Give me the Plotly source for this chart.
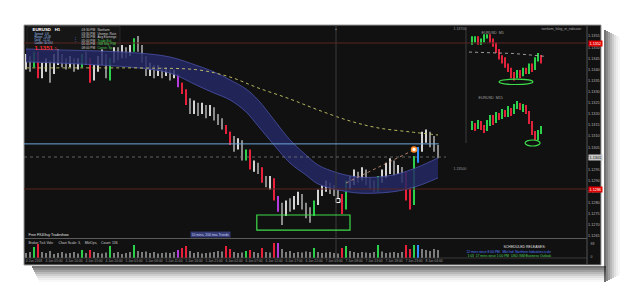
import plotly.graph_objects as go

W, H = 625, 289

# ---------------- main EURUSD H1 candles ----------------
open0 = 1.1342
close = [1.1344,1.1342,1.1345,1.1337,1.1341,1.1343,1.1339,1.1344,1.1346,1.1343,
         1.1342,1.1344,1.1341,1.1343,1.1346,1.1344,1.1336,1.1340,1.1343,1.1346,
         1.1337,1.1344,1.1348,1.1346,1.1349,1.1347,1.1349,1.1353,1.1350,1.1345,
         1.1339,1.1341,1.1338,1.1340,1.1338,1.1339,1.1337,1.1338,1.1334,1.1331,
         1.1326,1.1322,1.1324,1.1321,1.1323,1.1320,1.1322,1.1319,1.1317,1.1315,
         1.1312,1.1308,1.1306,1.1308,1.1300,1.1303,1.1296,1.1297,1.1295,1.1291,
         1.1289,1.1290,1.1282,1.1278,1.1275,1.1280,1.1278,1.1281,1.1283,1.1279,
         1.1276,1.1274,1.1280,1.1284,1.1286,1.1288,1.1286,1.1285,1.1283,1.1278,
         1.1288,1.1290,1.1293,1.1291,1.1294,1.1290,1.1288,1.1286,1.1291,1.1293,
         1.1296,1.1298,1.1295,1.1296,1.1293,1.1286,1.1282,1.1300,1.1305,1.1309,
         1.1311,1.1308,1.1306,1.1302]
high = [1.1347,1.1346,1.1348,1.1348,1.1343,1.1345,1.1344,1.1347,1.1349,1.1347,
        1.1345,1.1346,1.1345,1.1345,1.1347,1.1348,1.1345,1.1342,1.1346,1.1349,
        1.1347,1.1345,1.1350,1.1350,1.1351,1.1350,1.1351,1.1354,1.1355,1.1351,
        1.1346,1.1343,1.1342,1.1342,1.1341,1.1341,1.1340,1.1340,1.1338,1.1334,
        1.1331,1.1327,1.1326,1.1325,1.1325,1.1324,1.1324,1.1323,1.1320,1.1318,
        1.1315,1.1312,1.1310,1.1309,1.1308,1.1304,1.1304,1.1299,1.1298,1.1296,
        1.1292,1.1292,1.1291,1.1283,1.1280,1.1281,1.1282,1.1283,1.1285,1.1284,
        1.1280,1.1278,1.1281,1.1286,1.1288,1.1290,1.1289,1.1288,1.1286,1.1284,
        1.1290,1.1292,1.1295,1.1294,1.1296,1.1295,1.1291,1.1290,1.1292,1.1295,
        1.1298,1.1300,1.1299,1.1297,1.1296,1.1294,1.1287,1.1301,1.1305,1.1312,
        1.1313,1.1312,1.1310,1.1306]
low = [1.1340,1.1339,1.1341,1.1336,1.1336,1.1339,1.1334,1.1338,1.1342,1.1341,
       1.1340,1.1341,1.1339,1.1340,1.1341,1.1342,1.1334,1.1335,1.1339,1.1342,
       1.1336,1.1335,1.1343,1.1344,1.1345,1.1345,1.1346,1.1348,1.1348,1.1343,
       1.1337,1.1337,1.1336,1.1337,1.1336,1.1337,1.1335,1.1336,1.1332,1.1329,
       1.1324,1.1320,1.1320,1.1319,1.1320,1.1318,1.1319,1.1317,1.1315,1.1313,
       1.1311,1.1306,1.1303,1.1304,1.1299,1.1299,1.1295,1.1294,1.1293,1.1289,
       1.1287,1.1286,1.1281,1.1276,1.1270,1.1274,1.1276,1.1277,1.1279,1.1277,
       1.1273,1.1271,1.1274,1.1279,1.1283,1.1285,1.1284,1.1283,1.1282,1.1275,
       1.1277,1.1286,1.1288,1.1289,1.1290,1.1288,1.1286,1.1285,1.1285,1.1289,
       1.1291,1.1293,1.1292,1.1293,1.1289,1.1281,1.1277,1.1279,1.1298,1.1303,
       1.1307,1.1305,1.1303,1.1300]
# n = neutral, g = green, r = red, p = purple, b = blue (indicator colouring)
candle_class = ("nngr" "nnnnnnnnnn" "gnr" "nnnn" "g" "nnnnn" "g" "nnnnnnnnnn"
                "prr" "nnnnnnnnn" "rr" "nnn" "gr" "nn" "r" "nn" "rp" "nnnnnnnn"
                "g" "nnnnnn" "rg" "nnnnnnn" "g" "nnnnnn" "rrgb" "nnnnn")
volume = [500,600,1100,1400,600,500,700,400,500,600,
          450,500,600,450,800,500,800,600,500,450,
          550,1200,500,600,400,500,600,1300,700,600,
          650,500,600,450,500,550,500,600,800,1000,
          1200,700,500,600,450,500,550,600,700,650,
          1200,900,600,500,550,700,800,600,500,1000,
          600,550,1500,1500,900,600,700,500,600,550,
          650,600,1000,600,500,550,600,500,450,1000,
          1200,700,600,500,600,550,500,600,1300,650,
          500,550,600,500,600,1300,900,1300,1300,900,
          800,700,900,800]

# TMA band
band_x = [0, 8, 18, 28, 36, 43, 47, 51, 55, 58, 62, 66, 70, 73, 78, 83, 88, 93, 98, 103]
band_top = [1.13492,1.13488,1.13483,1.13474,1.13456,1.13416,1.13389,1.13353,1.13312,1.13263,
            1.13173,1.13083,1.13015,1.12970,1.12934,1.12916,1.12916,1.12930,1.12961,1.13002]
band_bot = [1.13434,1.13429,1.13420,1.13407,1.13384,1.13326,1.13294,1.13263,1.13209,1.13146,
            1.13060,1.12979,1.12925,1.12885,1.12858,1.12844,1.12844,1.12853,1.12876,1.12912]
# 200 EMA (dotted)
ema_x = [0, 18, 31, 43, 51, 58, 66, 73, 81, 88, 96, 103]
ema_y = [1.13407,1.13407,1.13406,1.13398,1.13366,1.13317,1.13267,1.13218,1.13168,1.13137,1.13119,1.13105]
trend_x = [80, 97]
trend_y = [1.12889, 1.13038]

level_blue = 1.13065
level_bid = 1.13006
level_red_hi = 1.13519
level_red_lo = 1.12862
bid_label = "1.1301"

price_ticks = [1.1265,1.1270,1.1275,1.1280,1.1285,1.1290,1.1295,1.1300,1.1305,1.1310,
               1.1315,1.1320,1.1325,1.1330,1.1335,1.1340,1.1345,1.1350,1.1355]
date_pos = [2,7,12,17,22,27,32,37,42,47,52,57,62,67,72,77,82,87,92,97,102]
date_text = ["4 Jun 2018","4 Jun 05:00","4 Jun 10:00","4 Jun 15:00","4 Jun 20:00",
             "5 Jun 01:00","5 Jun 06:00","5 Jun 11:00","5 Jun 16:00","5 Jun 21:00",
             "6 Jun 02:00","6 Jun 07:00","6 Jun 12:00","6 Jun 17:00","6 Jun 22:00",
             "7 Jun 03:00","7 Jun 08:00","7 Jun 13:00","7 Jun 18:00","7 Jun 23:00",
             "8 Jun 04:00"]

# ---------------- inset EURUSD M5 ----------------
m5_open0 = 1.1310
m5_close = [1.1311,1.1312,1.1310,1.1311,1.1313,1.1313,1.1311,1.1309,1.1306,1.1303,1.1302,1.1299,
            1.1297,1.1295,1.1294,1.1296,1.1295,1.1297,1.1296,1.1299,1.1298,1.1302,1.1304,1.1301]
m5_high = [1.1313,1.1313,1.1313,1.1312,1.1314,1.1314,1.1314,1.1312,1.1310,1.1307,1.1304,1.1303,
           1.1300,1.1298,1.1296,1.1297,1.1297,1.1298,1.1298,1.1300,1.1300,1.1303,1.1305,1.1304]
m5_low = [1.1309,1.1310,1.1309,1.1309,1.1310,1.1312,1.1310,1.1308,1.1305,1.1302,1.1300,1.1298,
          1.1296,1.1293,1.1292,1.1293,1.1293,1.1294,1.1295,1.1295,1.1296,1.1297,1.1301,1.1300]
m5_dot_x = [-1, 14, 24]
m5_dot_y = [1.13055, 1.13048, 1.13035]

# ---------------- inset EURUSD M15 ----------------
m15_open0 = 1.13030
m15_close = [1.13050,1.13035,1.13065,1.13045,1.13025,1.13055,1.13085,1.13065,1.13100,1.13085,1.13115,1.13100,
             1.13125,1.13110,1.13140,1.13155,1.13135,1.13145,1.13115,1.13065,1.13015,1.12990,1.13010,1.13030]
m15_high = [1.13070,1.13060,1.13075,1.13070,1.13050,1.13075,1.13100,1.13100,1.13115,1.13110,1.13130,1.13125,
            1.13145,1.13135,1.13155,1.13170,1.13160,1.13155,1.13150,1.13120,1.13070,1.13020,1.13025,1.13045]
m15_low = [1.13025,1.13020,1.13030,1.13025,1.13010,1.13020,1.13045,1.13050,1.13060,1.13075,1.13080,1.13090,
           1.13090,1.13095,1.13105,1.13130,1.13125,1.13115,1.13105,1.13055,1.13000,1.12975,1.12975,1.13005]

# ================= styling helpers =================
FONT = "Liberation Sans"
CLS = {'g': '#2bd14a', 'r': '#e8203c', 'p': '#b43cdc', 'b': '#2f8fff'}
UP_N, DN_N = '#d4d4d4', '#8a8a8a'
GREEN, RED = '#2bd14a', '#e0223a'


def X(px):
    return px / W


def Y(py):
    return 1 - py / H


def candle_parts(op0, c, h, l, cls=None):
    opens = [op0] + c[:-1]
    base, hgt, col = [], [], []
    for i, (o, cc) in enumerate(zip(opens, c)):
        base.append(min(o, cc))
        hgt.append(max(abs(cc - o), 0.000015))
        k = cls[i] if cls else 'n'
        if k == 'n':
            if cls:
                col.append(UP_N if cc >= o else DN_N)
            else:
                col.append(GREEN if cc >= o else RED)
        else:
            col.append(CLS[k])
    wick = [hh - ll for hh, ll in zip(h, l)]
    return base, hgt, col, wick


fig = go.Figure()

# band
fig.add_trace(go.Scatter(x=band_x, y=band_top, mode='lines', line=dict(color='#4a52a8', width=0.8, shape='spline'),
                         xaxis='x', yaxis='y', hoverinfo='skip'))
fig.add_trace(go.Scatter(x=band_x, y=band_bot, mode='lines', line=dict(color='#4a52a8', width=0.8, shape='spline'),
                         fill='tonexty', fillcolor='rgba(36,40,100,0.85)', xaxis='x', yaxis='y', hoverinfo='skip'))
fig.add_trace(go.Scatter(x=ema_x, y=ema_y, mode='lines', line=dict(color='#c9c76a', width=0.9, dash='dot', shape='spline'),
                         xaxis='x', yaxis='y', hoverinfo='skip'))
fig.add_trace(go.Scatter(x=trend_x, y=trend_y, mode='lines', line=dict(color='#d99a80', width=0.8, dash='dot'),
                         xaxis='x', yaxis='y', hoverinfo='skip'))

idx = list(range(len(close)))
base, hgt, col, wick = candle_parts(open0, close, high, low, candle_class)
fig.add_trace(go.Bar(x=idx, y=wick, base=low, width=0.25, marker=dict(color=col, line=dict(width=0)),
                     xaxis='x', yaxis='y', hoverinfo='skip'))
fig.add_trace(go.Bar(x=idx, y=hgt, base=base, width=0.48, marker=dict(color=col, line=dict(width=0)),
                     xaxis='x', yaxis='y', hoverinfo='skip'))
fig.add_trace(go.Scatter(x=[97], y=[1.1304], mode='markers',
                         marker=dict(symbol='circle', size=5, color='#ffffff', line=dict(color='#ff8c2a', width=1.5)),
                         xaxis='x', yaxis='y', hoverinfo='skip'))
fig.add_trace(go.Scatter(x=[78], y=[1.1281], mode='markers',
                         marker=dict(symbol='square', size=4, color='#111111', line=dict(color='#ffffff', width=1)),
                         xaxis='x', yaxis='y', hoverinfo='skip'))

# volume
vcol = ['#7c7c7c' if k == 'n' else CLS[k] for k in candle_class]
fig.add_trace(go.Bar(x=idx, y=volume, width=0.45, marker=dict(color=vcol, line=dict(width=0)),
                     xaxis='x4', yaxis='y4', hoverinfo='skip'))

# insets
for (o0, c, h, l, xa, ya) in [(m5_open0, m5_close, m5_high, m5_low, 'x2', 'y2'),
                              (m15_open0, m15_close, m15_high, m15_low, 'x3', 'y3')]:
    b_, h_, c_, w_ = candle_parts(o0, c, h, l)
    ii = list(range(len(c)))
    fig.add_trace(go.Bar(x=ii, y=w_, base=l, width=0.3, marker=dict(color=c_, line=dict(width=0)),
                         xaxis=xa, yaxis=ya, hoverinfo='skip'))
    fig.add_trace(go.Bar(x=ii, y=h_, base=b_, width=0.6, marker=dict(color=c_, line=dict(width=0)),
                         xaxis=xa, yaxis=ya, hoverinfo='skip'))
fig.add_trace(go.Scatter(x=m5_dot_x, y=m5_dot_y, mode='lines', line=dict(color='#bdbdbd', width=0.8, dash='dot'),
                         xaxis='x2', yaxis='y2', hoverinfo='skip'))

# ================= shapes =================
shapes = []
# drop shadow
for k, a in enumerate([0.6, 0.5, 0.4, 0.3, 0.21, 0.13, 0.07, 0.03]):
    shapes.append(dict(type='rect', xref='paper', yref='paper', layer='below',
                       x0=X(32 + k), x1=X(606), y0=Y(268 + 2 * k), y1=Y(266 + 2 * k),
                       fillcolor=f'rgba(20,20,20,{a})', line=dict(width=0)))
    shapes.append(dict(type='rect', xref='paper', yref='paper', layer='below',
                       x0=X(604 + 2 * k), x1=X(606 + 2 * k), y0=Y(282 - k), y1=Y(30 + k),
                       fillcolor=f'rgba(20,20,20,{a})', line=dict(width=0)))
shapes.append(dict(type='rect', xref='paper', yref='paper', layer='below',
                   x0=X(24), x1=X(601), y0=Y(265), y1=Y(25),
                   fillcolor='#111111', line=dict(color='#9a9a9a', width=1)))
# info panel
shapes.append(dict(type='rect', xref='paper', yref='paper', layer='below',
                   x0=X(27), x1=X(120), y0=Y(51), y1=Y(26.5),
                   fillcolor='#161616', line=dict(color='#2c2c2c', width=0.8)))
# separators
shapes.append(dict(type='line', xref='paper', yref='paper', x0=X(587), x1=X(587), y0=Y(265), y1=Y(25),
                   line=dict(color='#555555', width=1)))
shapes.append(dict(type='line', xref='paper', yref='paper', x0=X(24), x1=X(587), y0=Y(238.5), y1=Y(238.5),
                   line=dict(color='#5a5a5a', width=1)))
shapes.append(dict(type='line', xref='paper', yref='paper', x0=X(24), x1=X(587), y0=Y(258), y1=Y(258),
                   line=dict(color='#444444', width=0.8)))
shapes.append(dict(type='line', xref='paper', yref='paper', x0=X(466), x1=X(466), y0=Y(143), y1=Y(27),
                   line=dict(color='#3d3d3d', width=1)))
shapes.append(dict(type='line', xref='x', yref='paper', x0=77.5, x1=77.5, y0=Y(258), y1=Y(26),
                   line=dict(color='#3d3d3d', width=1)))
# levels
shapes.append(dict(type='line', xref='paper', yref='y', x0=X(24), x1=X(587), y0=level_red_hi, y1=level_red_hi,
                   line=dict(color='#5a2424', width=1)))
shapes.append(dict(type='line', xref='paper', yref='y', x0=X(24), x1=X(587), y0=level_red_lo, y1=level_red_lo,
                   line=dict(color='#5a2424', width=1)))
shapes.append(dict(type='line', xref='x', yref='y', x0=-0.5, x1=103.2, y0=level_blue, y1=level_blue,
                   line=dict(color='#6ea6d8', width=1)))
shapes.append(dict(type='line', xref='x', yref='y', x0=-0.5, x1=105, y0=level_bid, y1=level_bid,
                   line=dict(color='#777777', width=0.8, dash='dot')))
# highlight boxes
shapes.append(dict(type='rect', xref='x', yref='y', x0=57.7, x1=81, y0=1.12677, y1=1.12745,
                   line=dict(color='#3ddc4a', width=1.2)))
shapes.append(dict(type='circle', xref='x2', yref='y2', x0=9, x1=20.3, y0=1.12900, y1=1.12926,
                   line=dict(color='#3ddc4a', width=1.2)))
shapes.append(dict(type='circle', xref='x3', yref='y3', x0=17.7, x1=22.7, y0=1.12945, y1=1.12975,
                   line=dict(color='#3ddc4a', width=1.2)))

# ================= annotations =================
ann = []


def txt(px, py, s, size=4, color='#cfcfcf', anchor='left', bold=False, bg=None):
    ann.append(dict(x=X(px), y=Y(py), xref='paper', yref='paper', text=f"<b>{s}</b>" if bold else s,
                    showarrow=False, xanchor=anchor, yanchor='middle', bgcolor=bg, borderpad=0.5,
                    font=dict(family=FONT, size=size, color=color)))


txt(31, 28.6, "EURUSD   H1", 4.4, '#ffffff', bold=True)
for j, s in enumerate(["Spread:  0.8", "Range:  13.48", "Daily:  -12.14", "Candle: 00:03:4"]):
    txt(33, 33.6 + 2.8 * j, s, 2.6, '#9fc3f0')
txt(33, 47.6, "1.1351", 6, '#ff2d2d', bold=True)
txt(52.5, 48.3, "5", 3.8, '#ff2d2d')
txt(70.5, 38, "⋮", 5, '#5a6cc0')
times = ["03:30 PM", "03:30 PM", "03:30 PM", "05:00 PM", "05:00 PM", "08:00 PM"]
events = ["Nonfarm", "Unemp. Rate", "Avg Earnings", "Trade Bal.", "ISM Mfg PMI", "Constr. Sp."]
for j in range(6):
    txt(80, 29.5 + 3.6 * j, times[j], 3.2, '#d8d8d8')
    txt(96, 29.5 + 3.6 * j, events[j], 3.2, '#d0d0d0' if j < 3 else '#49d35a')

txt(452, 28.5, "1.13700", 3.5, '#9a9a9a')
txt(452, 168, "1.13500", 3.5, '#9a9a9a')
txt(584, 28.5, "nonfarm_fxlog_m_indicator", 3.3, '#a8a8a8', anchor='right')
txt(336, 28.5, "▲", 3, '#808080', anchor='center')
txt(480, 33, "EURUSD  M5", 3.6, '#a0a0a0')
txt(477, 97, "EURUSD  M15", 3.6, '#a0a0a0')

txt(27, 234.5, "Free FX4Guy Tradeshow", 3.6, '#e6e6e6')
txt(210, 234.5, "10 mins, 200 tma Trends", 3.4, '#c9cff5', anchor='center', bg='#353b74')
txt(27, 242.5, "Broker Tick Vols:     Chart Scale: 3,    MktOps,    Count: 136", 3.4, '#cfcfcf')
txt(547, 246.5, "SCHEDULED RELEASES:", 3.5, '#e0e0e0', anchor='right')
txt(553, 251, "12 mins since 8:00 PM:  Mkt Ind: Northern Industries.v.ukr", 3.3, '#4f7dff', anchor='right')
txt(553, 255, "1:03  17 mins since 1:00 PM  USD ISM Business Outlook", 3.3, '#4fd35a', anchor='right')

txt(588, 43.8, f"{level_red_hi:.4f}", 3.8, '#ffffff', bg='#e00000')
txt(588, 189, f"{level_red_lo:.4f}", 3.8, '#ffffff', bg='#e00000')
txt(588, 157, bid_label, 3.8, '#111111', bg='#c8c8c8')
txt(589, 243, "88", 3.5, '#a0a0a0')
txt(589, 256, "0", 3.5, '#a0a0a0')

# ================= layout =================
xdom = [X(24), X(587)]
fig.update_layout(
    width=W, height=H, margin=dict(l=0, r=0, t=0, b=0),
    paper_bgcolor='#ffffff', plot_bgcolor='rgba(0,0,0,0)',
    showlegend=False, barmode='overlay', hovermode=False,
    font=dict(family=FONT),
    shapes=shapes, annotations=ann,
    xaxis=dict(domain=xdom, range=[-0.5, 140.25], anchor='y', showgrid=False, zeroline=False,
               showticklabels=False, showline=False),
    yaxis=dict(domain=[Y(238), Y(25)], range=[1.126415, 1.1360], anchor='x', side='right',
               tickvals=price_ticks, tickformat='.4f', ticks='', showgrid=False, zeroline=False,
               tickfont=dict(family=FONT, size=3.8, color='#b4b4b4'), showline=False),
    xaxis4=dict(domain=xdom, range=[-0.5, 140.25], anchor='y4', matches='x', showgrid=False, zeroline=False,
                tickvals=date_pos, ticktext=date_text, ticks='', showline=False,
                tickfont=dict(family=FONT, size=3.3, color='#9a9a9a')),
    yaxis4=dict(domain=[Y(258), Y(240)], range=[0, 1800], anchor='x4', visible=False),
    xaxis2=dict(domain=[X(466), X(550)], range=[-2, 26], anchor='y2', visible=False),
    yaxis2=dict(domain=[Y(85), Y(30)], range=[1.12898, 1.1316], anchor='x2', visible=False),
    xaxis3=dict(domain=[X(466), X(550)], range=[-2, 26], anchor='y3', visible=False),
    yaxis3=dict(domain=[Y(150), Y(95)], range=[1.12925, 1.1320], anchor='x3', visible=False),
)

fig.write_html("out.html")
